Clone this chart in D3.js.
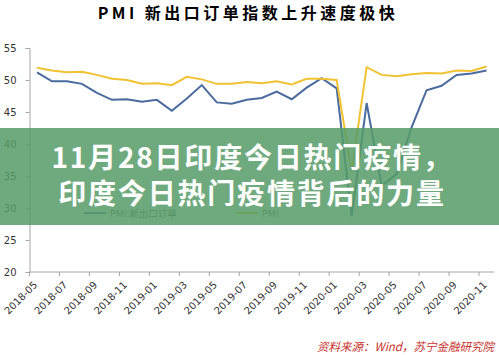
<!DOCTYPE html>
<html>
<head>
<meta charset="utf-8">
<script src="https://cdn.jsdelivr.net/npm/d3@7"></script>
<style>
  body { margin: 0; background: #fff; }
  svg { display: block; font-family: "Noto Sans CJK SC", "DejaVu Sans", sans-serif; }
</style>
</head>
<body>
<svg id="chart" width="499" height="355"></svg>
<script>
// months 2018-05 .. 2020-11
const months = [
  '2018-05','2018-06','2018-07','2018-08','2018-09','2018-10','2018-11','2018-12',
  '2019-01','2019-02','2019-03','2019-04','2019-05','2019-06','2019-07','2019-08',
  '2019-09','2019-10','2019-11','2019-12','2020-01','2020-02','2020-03','2020-04',
  '2020-05','2020-06','2020-07','2020-08','2020-09','2020-10','2020-11'
];
// PMI: new export orders
const exportOrders = [51.2,49.8,49.8,49.4,48.0,46.9,47.0,46.6,46.9,45.2,47.1,49.2,46.5,46.3,46.9,47.2,
  48.2,47.0,48.8,50.3,48.7,28.7,46.4,33.5,35.3,42.6,48.4,49.1,50.8,51.0,51.5];
// PMI
const pmi = [51.9,51.5,51.2,51.3,50.8,50.2,50.0,49.4,49.5,49.2,50.5,50.1,49.4,49.4,49.7,49.5,
  49.8,49.3,50.2,50.2,50.0,35.7,52.0,50.8,50.6,50.9,51.1,51.0,51.5,51.4,52.1];
const yTicks = [20, 25, 30, 35, 40, 45, 50, 55];
const seriesNames = ['PMI:新出口订单', 'PMI'];
const titleText = 'PMI 新出口订单指数上升速度极快';
const overlayLines = ['11月28日印度今日热门疫情，', '印度今日热门疫情背后的力量'];
const sourceText = '资料来源：Wind，苏宁金融研究院';

const svg = d3.select('#chart');
const plotL = 29.5, plotR = 494, plotT = 48, plotB = 272;

const x = d3.scaleBand().domain(months).range([plotL, plotR]);
const y = d3.scaleLinear().domain([20, 55]).range([plotB, plotT]);

// title
svg.append('text')
  .attr('x', 248).attr('y', 19)
  .attr('text-anchor', 'middle')
  .attr('font-size', 16).attr('font-weight', 'bold')
  .attr('letter-spacing', 3.5)
  .attr('fill', '#000')
  .text(titleText);

// y axis
const yAxis = svg.append('g')
  .attr('transform', `translate(${plotL},0)`)
  .call(d3.axisLeft(y).tickValues(yTicks).tickSize(4).tickPadding(9));
yAxis.selectAll('text').attr('font-size', 10).attr('fill', '#333')
  .attr('font-family', 'DejaVu Sans, sans-serif');
yAxis.selectAll('line, path').attr('stroke', '#a6a6a6');

// x axis: ticks every 2 months at band starts
const tickMonths = months.filter((m, i) => i % 2 === 0);
const xg = svg.append('g').attr('transform', `translate(0,${plotB})`);
xg.append('line')
  .attr('x1', plotL).attr('x2', plotR)
  .attr('stroke', '#a6a6a6');
xg.selectAll('line.tk').data(tickMonths).enter().append('line')
  .attr('class', 'tk')
  .attr('x1', d => x(d)).attr('x2', d => x(d))
  .attr('y1', 0).attr('y2', 4)
  .attr('stroke', '#a6a6a6');
xg.selectAll('text').data(tickMonths).enter().append('text')
  .attr('transform', d => `translate(${x(d) + 6},${11}) rotate(-45)`)
  .attr('text-anchor', 'end')
  .attr('dy', '0.35em')
  .attr('font-size', 10)
  .attr('font-family', 'DejaVu Sans, sans-serif')
  .attr('fill', '#333')
  .text(d => d);

// lines
const cx = m => x(m) + x.bandwidth() / 2;
const line = d3.line().x((d, i) => cx(months[i])).y(d => y(d));
svg.append('path').datum(exportOrders)
  .attr('d', line).attr('fill', 'none')
  .attr('stroke', '#4a6b9e').attr('stroke-width', 2);
svg.append('path').datum(pmi)
  .attr('d', line).attr('fill', 'none')
  .attr('stroke', '#f1c232').attr('stroke-width', 2);

// legend (sits under the overlay)
const legend = svg.append('g').attr('transform', 'translate(0,213)');
legend.append('line').attr('x1', 84).attr('x2', 106).attr('stroke', '#4a6b9e').attr('stroke-width', 2);
legend.append('text').attr('x', 110).attr('y', 4).attr('font-size', 9.5).attr('fill', '#555').text(seriesNames[0]);
legend.append('line').attr('x1', 236).attr('x2', 258).attr('stroke', '#f1c232').attr('stroke-width', 2);
legend.append('text').attr('x', 262).attr('y', 4).attr('font-size', 9.5).attr('fill', '#555').text(seriesNames[1]);

// green overlay band with headline
svg.append('rect')
  .attr('x', 0).attr('y', 128).attr('width', 499).attr('height', 97)
  .attr('fill', 'rgb(86,155,103)').attr('fill-opacity', 0.85);
svg.selectAll('text.headline').data(overlayLines).enter().append('text')
  .attr('class', 'headline')
  .attr('x', 252).attr('y', (d, i) => 168 + i * 36)
  .attr('text-anchor', 'middle')
  .attr('font-size', 28).attr('font-weight', 'bold')
  .attr('letter-spacing', 1.8)
  .attr('fill', '#fff')
  .text(d => d);

// source
svg.append('text')
  .attr('x', 494).attr('y', 351)
  .attr('text-anchor', 'end')
  .attr('font-size', 11.5).attr('font-style', 'italic')
  .attr('fill', '#c8302c')
  .text(sourceText);
</script>
</body>
</html>
